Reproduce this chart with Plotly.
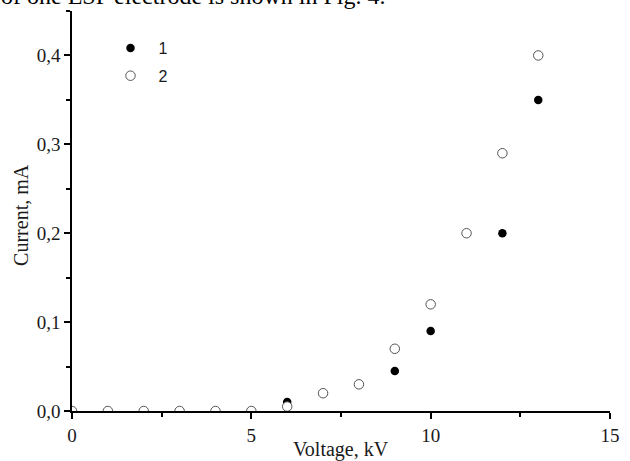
import plotly.graph_objects as go

# Data
voltage_1 = [6, 9, 10, 12, 13]
current_1 = [0.01, 0.045, 0.09, 0.20, 0.35]

voltage_2 = [0, 1, 2, 3, 4, 5, 6, 7, 8, 9, 10, 11, 12, 13]
current_2 = [0, 0, 0, 0, 0, 0, 0.005, 0.02, 0.03, 0.07, 0.12, 0.20, 0.29, 0.40]

x_tickvals = [0, 5, 10, 15]
x_ticktext = ["0", "5", "10", "15"]
y_tickvals = [0.0, 0.1, 0.2, 0.3, 0.4]
y_ticktext = ["0,0", "0,1", "0,2", "0,3", "0,4"]

serif = "Liberation Serif"
sans = "Liberation Sans"
text_col = "#1a1a1a"

fig = go.Figure()
fig.add_trace(go.Scatter(
    x=voltage_1, y=current_1, mode="markers", name="1", legendgroup="a",
    marker=dict(symbol="circle", size=8.5, color="black", line=dict(width=0)),
))
fig.add_trace(go.Scatter(
    x=voltage_2, y=current_2, mode="markers", name="2", legendgroup="b",
    marker=dict(symbol="circle", size=9.5, color="white", line=dict(width=1, color="#555555")),
))

axis_common = dict(
    showgrid=False, zeroline=False, showline=True, linecolor="black", linewidth=1.6,
    ticks="outside", ticklen=6, tickwidth=1.6, tickcolor="black",
    tickfont=dict(family=serif, size=19, color=text_col),
    mirror=False,
)

fig.update_xaxes(
    range=[0, 15], tickvals=x_tickvals, ticktext=x_ticktext,
    minor=dict(ticks="outside", ticklen=4, tickwidth=1.6, tickcolor="black", dtick=2.5, tick0=0),
    **axis_common,
)
fig.update_yaxes(
    range=[0, 0.45], tickvals=y_tickvals, ticktext=y_ticktext,
    minor=dict(ticks="outside", ticklen=4, tickwidth=1.6, tickcolor="black", dtick=0.05, tick0=0),
    **axis_common,
)

fig.update_layout(
    width=630, height=461,
    margin=dict(l=72, r=11, t=10.5, b=50),
    plot_bgcolor="white", paper_bgcolor="white",
    showlegend=True,
    legend=dict(
        x=0.0567, y=0.95, xanchor="left", yanchor="top",
        font=dict(family=sans, size=16, color=text_col),
        itemwidth=46, tracegroupgap=4, traceorder="grouped",
        bgcolor="rgba(0,0,0,0)",
    ),
    annotations=[
        dict(text="Current, mA", textangle=-90, xref="paper", yref="paper",
             x=-0.095, y=0.49, xanchor="center", yanchor="middle", showarrow=False,
             font=dict(family=serif, size=20, color=text_col)),
        dict(text="Voltage, kV", xref="paper", yref="paper",
             x=0.5, y=-0.095, xanchor="center", yanchor="middle", showarrow=False,
             font=dict(family=serif, size=20, color=text_col)),
        dict(text="of one ESP electrode is shown in Fig. 4.", xref="paper", yref="paper",
             x=-0.135, y=1.0, xanchor="left", yanchor="bottom", showarrow=False,
             font=dict(family=serif, size=24, color="black")),
    ],
)

fig.write_html("out.html", config={"displayModeBar": False},
               post_script="document.body.style.margin='0';")
